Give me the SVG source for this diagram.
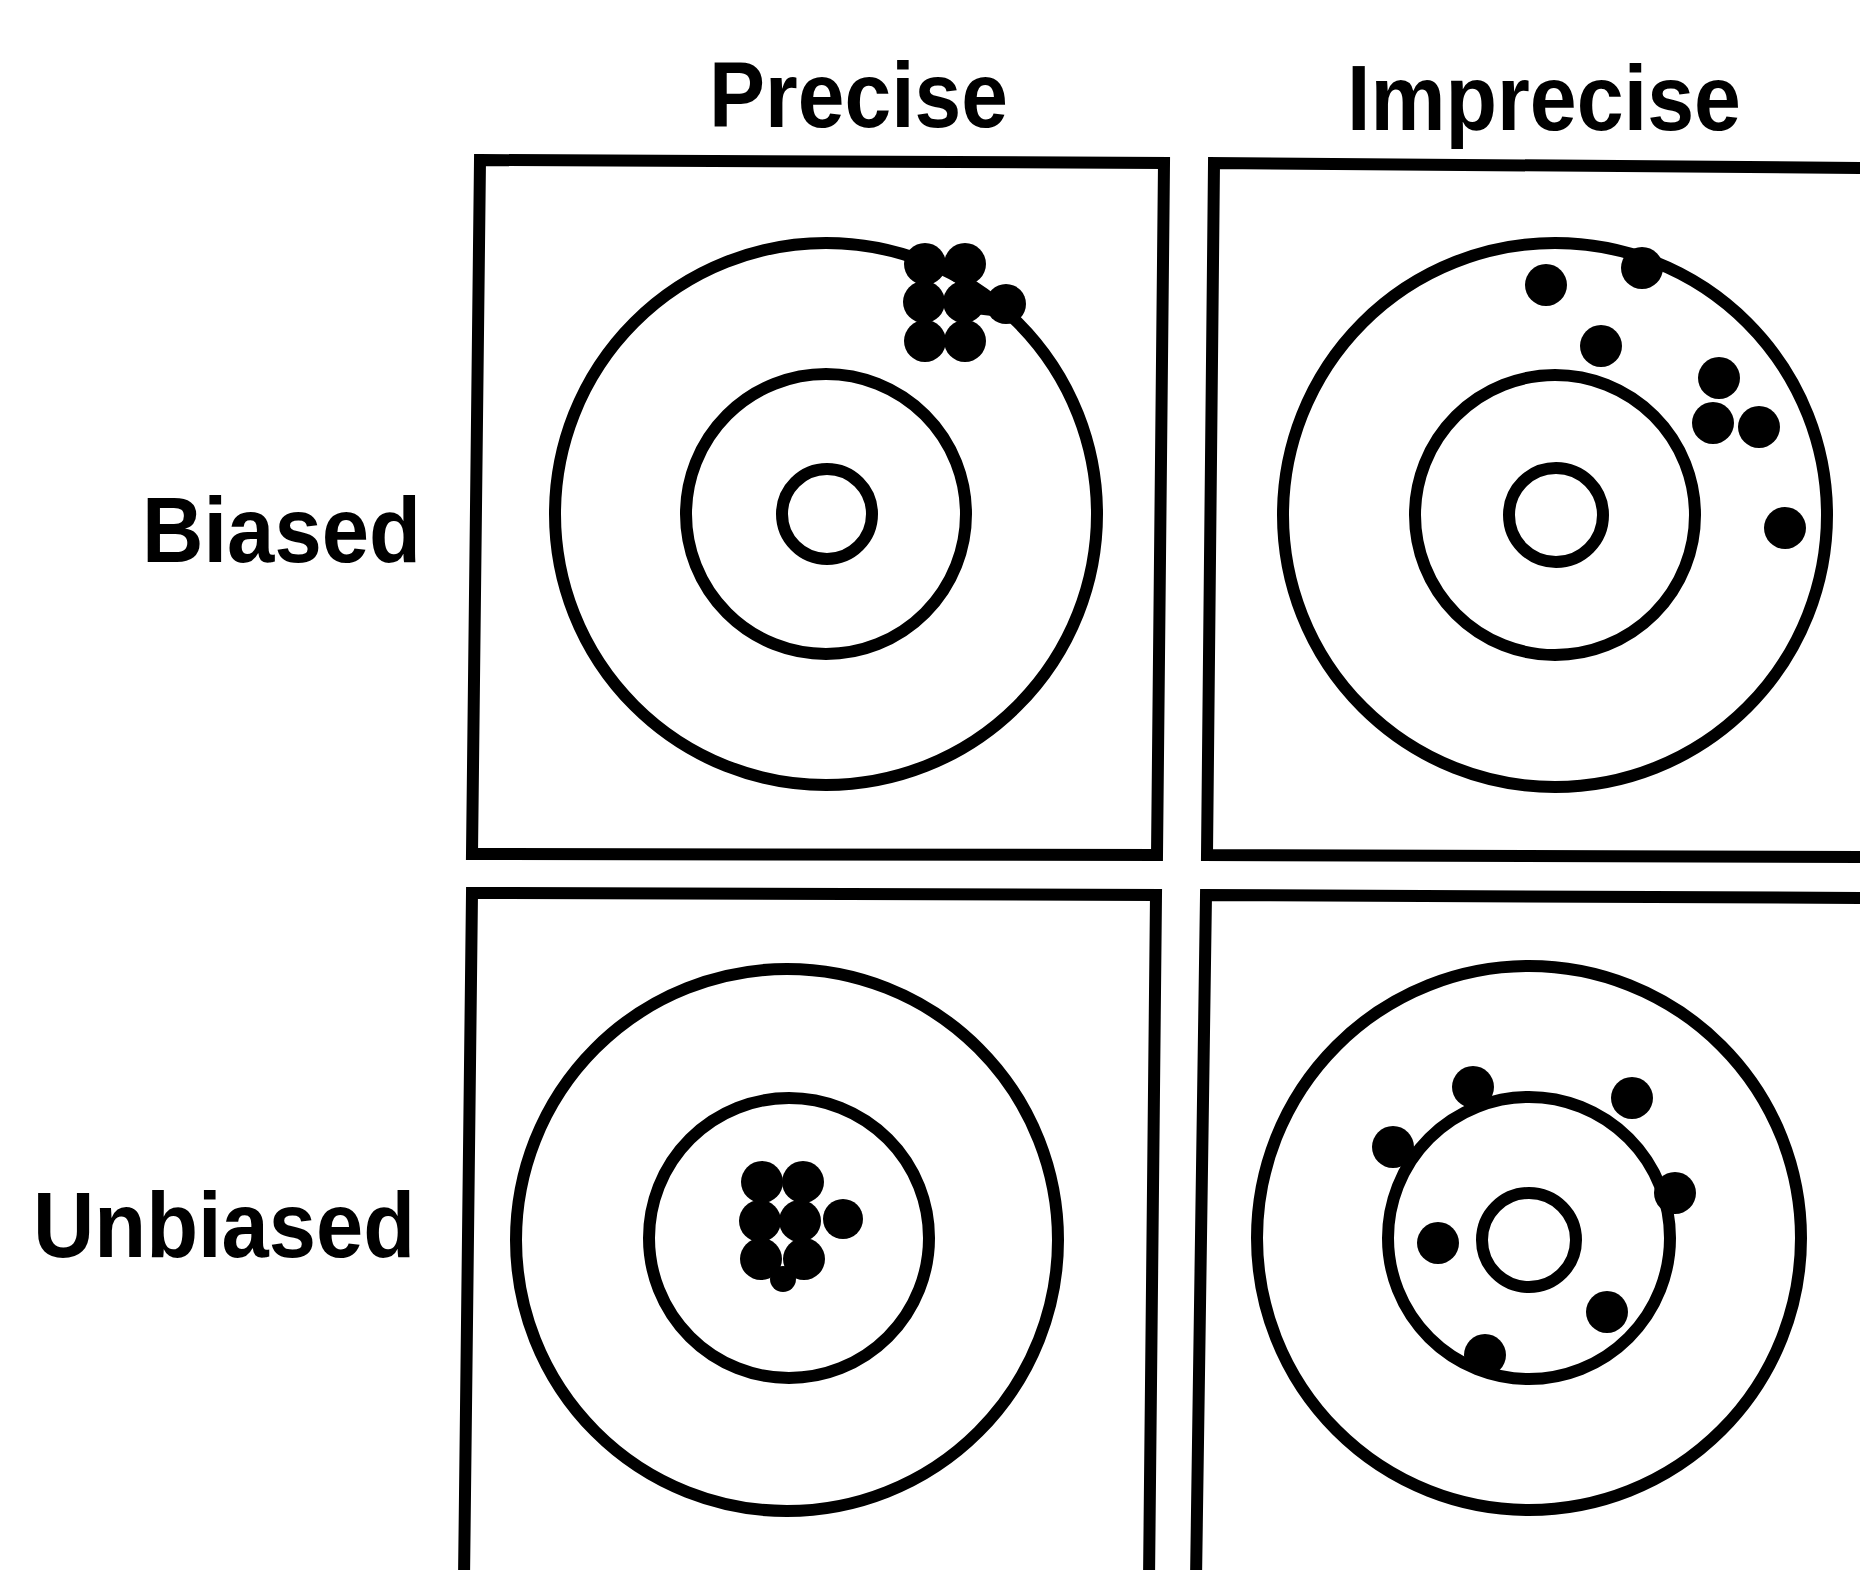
<svg xmlns="http://www.w3.org/2000/svg" width="1860" height="1570" viewBox="0 0 1860 1570">
<style>
.lbl{font-family:"Liberation Sans",Arial,sans-serif;font-weight:bold;font-size:92px;fill:#000}
.box{fill:none;stroke:#000;stroke-width:12;stroke-linejoin:miter}
.ring{fill:none;stroke:#000;stroke-width:12}
.dot{fill:#000}
</style>
<rect width="1860" height="1570" fill="#fff"/>
<g id="labels">
<text class="lbl" x="709" y="127" textLength="299" lengthAdjust="spacingAndGlyphs">Precise</text>
<text class="lbl" x="1347" y="130" textLength="394" lengthAdjust="spacingAndGlyphs">Imprecise</text>
<text class="lbl" x="142" y="562" textLength="279" lengthAdjust="spacingAndGlyphs">Biased</text>
<text class="lbl" x="33" y="1257" textLength="382" lengthAdjust="spacingAndGlyphs">Unbiased</text>
</g>
<g id="precise-biased">
<path class="box" d="M480,160 L1164,163 L1157,855 L472,854 Z"/>
<circle class="ring" cx="826" cy="514" r="271"/>
<circle class="ring" cx="826" cy="514" r="140"/>
<circle class="ring" cx="827" cy="514" r="45"/>
<circle class="dot" cx="925" cy="264" r="21"/>
<circle class="dot" cx="965" cy="264" r="21"/>
<circle class="dot" cx="924" cy="302" r="21"/>
<circle class="dot" cx="964" cy="302" r="21"/>
<circle class="dot" cx="925" cy="341" r="21"/>
<circle class="dot" cx="965" cy="341" r="21"/>
<path class="dot" d="M975,292 L992,294 L992,316 L975,314 Z"/>
<circle class="dot" cx="1006" cy="304" r="20"/>
</g>
<g id="imprecise-biased">
<path class="box" d="M1870,168 L1214,163 L1207,855 L1870,857"/>
<circle class="ring" cx="1555" cy="515" r="272"/>
<circle class="ring" cx="1555" cy="515" r="140"/>
<circle class="ring" cx="1556" cy="515" r="47"/>
<circle class="dot" cx="1546" cy="285" r="21"/>
<circle class="dot" cx="1642" cy="268" r="21"/>
<circle class="dot" cx="1601" cy="346" r="21"/>
<circle class="dot" cx="1719" cy="378" r="21"/>
<circle class="dot" cx="1713" cy="423" r="21"/>
<circle class="dot" cx="1759" cy="427" r="21"/>
<circle class="dot" cx="1785" cy="528" r="21"/>
</g>
<g id="precise-unbiased">
<path class="box" d="M464,1580 L472,893 L1156,895 L1149,1580"/>
<circle class="ring" cx="787" cy="1240" r="271"/>
<circle class="ring" cx="789" cy="1238" r="140"/>
<circle class="dot" cx="762" cy="1182" r="21"/>
<circle class="dot" cx="803" cy="1182" r="21"/>
<circle class="dot" cx="760" cy="1221" r="21"/>
<circle class="dot" cx="800" cy="1221" r="21"/>
<circle class="dot" cx="843" cy="1219" r="20"/>
<circle class="dot" cx="761" cy="1259" r="21"/>
<circle class="dot" cx="804" cy="1259" r="21"/>
<circle class="dot" cx="783" cy="1279" r="13"/>
</g>
<g id="imprecise-unbiased">
<path class="box" d="M1196,1580 L1206,895 L1870,898"/>
<circle class="ring" cx="1529" cy="1238" r="272"/>
<circle class="ring" cx="1529" cy="1238" r="141"/>
<circle class="ring" cx="1529" cy="1240" r="47"/>
<circle class="dot" cx="1473" cy="1087" r="21"/>
<circle class="dot" cx="1632" cy="1098" r="21"/>
<circle class="dot" cx="1393" cy="1147" r="21"/>
<circle class="dot" cx="1675" cy="1193" r="21"/>
<circle class="dot" cx="1438" cy="1243" r="21"/>
<circle class="dot" cx="1607" cy="1312" r="21"/>
<circle class="dot" cx="1485" cy="1355" r="21"/>
</g>
</svg>
